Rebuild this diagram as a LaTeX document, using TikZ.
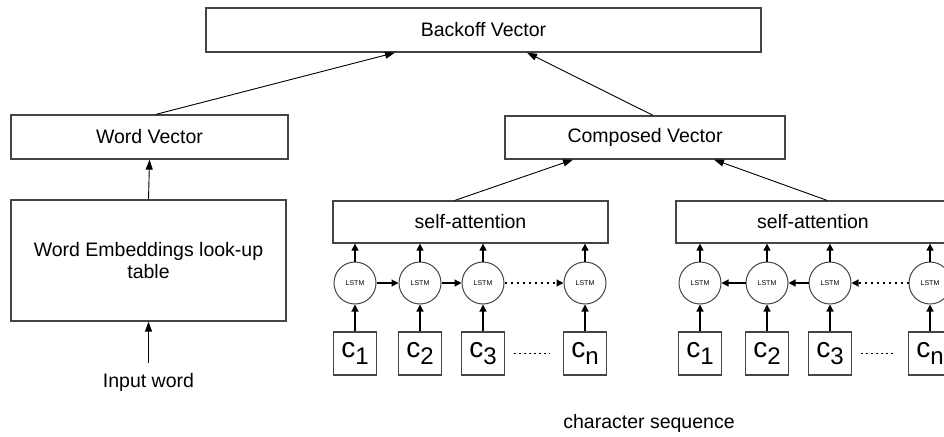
\documentclass[tikz,border=0pt]{standalone}
\usepackage{fontspec}
\setmainfont{Liberation Sans}
\usetikzlibrary{arrows.meta}
\definecolor{boxline}{HTML}{444444}
\tikzset{
  box/.style={draw=boxline, line width=1.3pt, inner sep=0pt, font=\fontsize{19.5}{22}\selectfont},
  lstm/.style={draw=boxline, line width=1pt, circle, minimum size=42pt, inner sep=0pt, font=\fontsize{7}{8}\selectfont},
  cbox/.style={draw=boxline, line width=1.3pt, minimum width=43pt, minimum height=43pt, inner sep=0pt},
  thinarr/.style={draw=black, line width=0.9pt, -{Triangle[length=10pt,width=7pt]}},
  farr/.style={draw=black, line width=1.2pt, -{Triangle[length=7pt,width=7pt]}},
  dotarr/.style={draw=black, line width=1.2pt, dash pattern=on 2pt off 4pt, -{Triangle[length=7pt,width=7pt]}},
  dotline/.style={draw=black, line width=1.1pt, dash pattern=on 1.5pt off 3.5pt},
  lbl/.style={font=\fontsize{19.5}{22}\selectfont, inner sep=0pt}
}
\newcommand{\cchar}[1]{{\fontsize{28}{28}\selectfont c}{\fontsize{24}{24}\selectfont\raisebox{-7pt}{#1}}}
\begin{document}
\begin{tikzpicture}[x=1pt,y=-1pt]
\useasboundingbox (0,0) rectangle (944,436);
\clip (0,0) rectangle (944,436);
% top level
\node[box, minimum width=555pt, minimum height=44pt] (bo) at (483.5,30) {Backoff Vector};
\node[box, minimum width=277pt, minimum height=44pt] (wv) at (149.5,137) {Word Vector};
\node[box, minimum width=280pt, minimum height=43pt] (cv) at (645,137.5) {Composed Vector};
\node[box, minimum width=275pt, minimum height=121pt, align=center] (we) at (148.5,260.5) {Word Embeddings look-up\\table};
\node[lbl] (iw) at (148.5,382) {Input word};
\coordinate (iwtop) at (148.5,363);
\node[lbl] (cs) at (649,423) {character sequence};
% self attention
\node[box, minimum width=275pt, minimum height=42pt] (saL) at (470.5,222) {self-attention};
\node[box, minimum width=274pt, minimum height=42pt] (saR) at (813,222) {self-attention};
% LSTM and characters, left
\foreach \i/\x/\s in {1/355/1, 2/420/2, 3/483/3, 4/585/n} {
  \node[lstm] (L\i) at (\x,283) {LSTM};
  \node[cbox] (cL\i) at (\x,353.5) {\cchar{\s}};
}
\foreach \i/\x/\s in {1/700/1, 2/767/2, 3/830/3, 4/930/n} {
  \node[lstm] (R\i) at (\x,283) {LSTM};
  \node[cbox] (cR\i) at (\x,353.5) {\cchar{\s}};
}
% connectors
\draw[thinarr] ([xshift=6.5pt]wv.north) -- ([xshift=-88.5pt]bo.south);
\draw[thinarr] ([xshift=8pt]cv.north) -- ([xshift=43.5pt]bo.south);
\draw[thinarr] ([xshift=-15.5pt]saL.north) -- ([xshift=-72pt]cv.south);
\draw[thinarr] ([xshift=14pt]saR.north) -- ([xshift=69pt]cv.south);
\draw[thinarr] (we.north) -- (wv.south);
\draw[thinarr] (iwtop) -- (we.south);
\foreach \i in {1,2,3,4} {
  \draw[farr] (L\i.north) -- (L\i.north |- saL.south);
  \draw[farr] (cL\i.north) -- (L\i.south);
  \draw[farr] (R\i.north) -- (R\i.north |- saR.south);
  \draw[farr] (cR\i.north) -- (R\i.south);
}
\draw[farr] (L1.east) -- (L2.west);
\draw[farr] (L2.east) -- (L3.west);
\draw[dotarr] (L3.east) -- (L4.west);
\draw[farr] (R2.west) -- (R1.east);
\draw[farr] (R3.west) -- (R2.east);
\draw[dotarr] (R4.west) -- (R3.east);
\draw[dotline] ([xshift=9pt]cL3.east) -- ([xshift=-13pt]cL4.west);
\draw[dotline] ([xshift=9pt]cR3.east) -- ([xshift=-13pt]cR4.west);
\end{tikzpicture}
\end{document}
